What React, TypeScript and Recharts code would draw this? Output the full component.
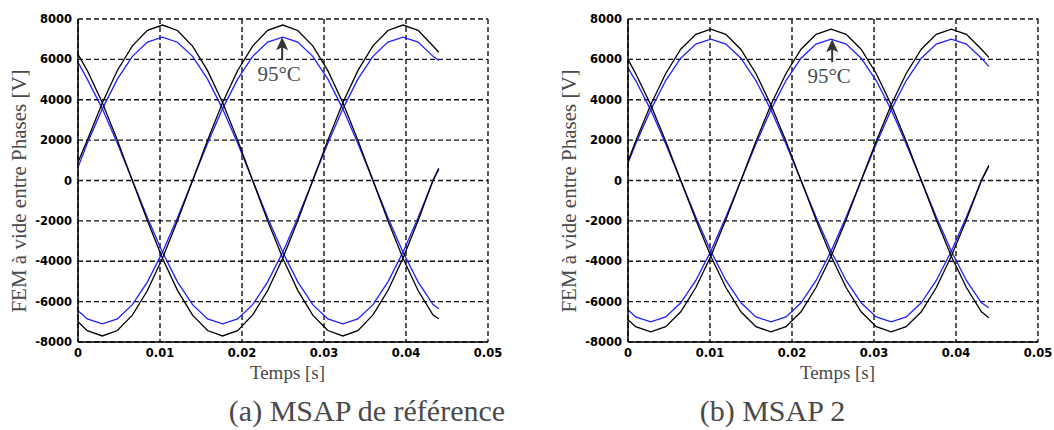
import { LineChart, Line, XAxis, YAxis, CartesianGrid, ReferenceDot } from "recharts";

// tick values shared by both panels
const xTicks = [0, 0.01, 0.02, 0.03, 0.04, 0.05];
const yTicks = [-8000, -6000, -4000, -2000, 0, 2000, 4000, 6000, 8000];

// (a) MSAP de référence — sample times [s]
const refTime = [0, 0.00113, 0.00297, 0.0048, 0.00663, 0.00847, 0.0103, 0.01213, 0.01397, 0.0158, 0.01763, 0.01947, 0.0213, 0.02313, 0.02497, 0.0268, 0.02863, 0.03047, 0.0323, 0.03413, 0.03597, 0.0378, 0.03963, 0.04147, 0.0433, 0.044];
const refBlackA = [900, 1990, 3850, 5450, 6670, 7440, 7700, 7430, 6660, 5440, 3860, 2000, 0, -1990, -3850, -5440, -6670, -7430, -7700, -7440, -6660, -5450, -3850, -1990, 10, 600];
const refBlackB = [6250, 5450, 3850, 1990, 0, -1990, -3850, -5440, -6670, -7430, -7700, -7440, -6660, -5450, -3850, -1990, 0, 2000, 3850, 5440, 6670, 7430, 7700, 7440, 6660, 6350];
const refBlackC = [-7000, -7440, -7700, -7430, -6670, -5450, -3850, -1990, 0, 1990, 3850, 5450, 6660, 7440, 7700, 7430, 6670, 5440, 3850, 2000, 0, -1990, -3850, -5450, -6670, -6850];
const refBlueA = [650, 1840, 3550, 5020, 6150, 6860, 7100, 6850, 6150, 5020, 3550, 1840, 0, -1840, -3550, -5020, -6150, -6860, -7100, -6860, -6150, -5020, -3550, -1840, 0, 550];
const refBlueB = [5850, 5020, 3550, 1840, 0, -1840, -3550, -5020, -6150, -6860, -7100, -6860, -6150, -5020, -3550, -1840, 0, 1840, 3550, 5020, 6150, 6860, 7100, 6860, 6150, 5950];
const refBlueC = [-6450, -6860, -7100, -6860, -6150, -5020, -3550, -1840, 0, 1840, 3550, 5020, 6150, 6860, 7100, 6860, 6150, 5020, 3550, 1840, 0, -1840, -3550, -5020, -6150, -6350];

// (b) MSAP 2
const m2Time = [0, 0.00093, 0.00277, 0.0046, 0.00643, 0.00827, 0.0101, 0.01193, 0.01377, 0.0156, 0.01743, 0.01927, 0.0211, 0.02293, 0.02477, 0.0266, 0.02843, 0.03027, 0.0321, 0.03393, 0.03577, 0.0376, 0.03943, 0.04127, 0.0431, 0.044];
const m2BlackA = [950, 1940, 3750, 5300, 6500, 7240, 7500, 7240, 6490, 5300, 3750, 1950, 0, -1940, -3750, -5300, -6500, -7240, -7500, -7240, -6500, -5300, -3750, -1940, 0, 750];
const m2BlackB = [6000, 5300, 3750, 1940, 0, -1940, -3750, -5300, -6500, -7240, -7500, -7240, -6500, -5300, -3750, -1940, 0, 1940, 3750, 5300, 6500, 7240, 7500, 7240, 6500, 6100];
const m2BlackC = [-6900, -7240, -7500, -7240, -6500, -5300, -3750, -1940, 0, 1940, 3750, 5300, 6500, 7240, 7500, 7240, 6500, 5300, 3750, 1940, 0, -1940, -3750, -5300, -6500, -6800];
const m2BlueA = [870, 1810, 3500, 4950, 6060, 6760, 7000, 6760, 6060, 4950, 3500, 1810, 0, -1810, -3500, -4950, -6060, -6760, -7000, -6760, -6060, -4950, -3500, -1810, 0, 700];
const m2BlueB = [5570, 4950, 3500, 1810, 0, -1810, -3500, -4950, -6060, -6760, -7000, -6760, -6060, -4950, -3500, -1810, 0, 1810, 3500, 4950, 6060, 6760, 7000, 6760, 6060, 5650];
const m2BlueC = [-6400, -6760, -7000, -6760, -6060, -4950, -3500, -1810, 0, 1810, 3500, 4950, 6060, 6760, 7000, 6760, 6060, 4950, 3500, 1810, 0, -1810, -3500, -4950, -6060, -6300];

// where the "95°C" arrow points (peak of blue curve)
const refPeak = { t: 0.0249, v: 7100 };
const m2Peak = { t: 0.0249, v: 7000 };

const BLACK = "#000000";
const BLUE = "#1f1fff";
const serif = "'Liberation Serif', 'Times New Roman', serif";
const labelGray = "#4a4a4a";

const buildRows = (t: number[], k: number[][]) =>
  t.map((v, i) => ({
    t: v,
    blackA: k[0][i],
    blackB: k[1][i],
    blackC: k[2][i],
    blueA: k[3][i],
    blueB: k[4][i],
    blueC: k[5][i],
  }));

const refRows = buildRows(refTime, [refBlackA, refBlackB, refBlackC, refBlueA, refBlueB, refBlueC]);
const m2Rows = buildRows(m2Time, [m2BlackA, m2BlackB, m2BlackC, m2BlueA, m2BlueB, m2BlueC]);

const tickStyle = {
  fill: "#000",
  fontSize: 11.5,
  fontWeight: 700,
  fontFamily: "'DejaVu Sans', sans-serif",
};

const fmtX = (v: number) => (v === 0 ? "0" : v.toFixed(2));

function TempArrow(props: any) {
  const { cx, cy } = props;
  if (cx == null || cy == null) return null;
  return (
    <g>
      <line x1={cx} y1={cy + 23} x2={cx} y2={cy + 9} stroke="#333" strokeWidth={2} />
      <path
        d={`M${cx} ${cy} L${cx - 6} ${cy + 13} L${cx} ${cy + 10} L${cx + 6} ${cy + 13} Z`}
        fill="#333"
      />
      <text
        x={cx - 3}
        y={cy + 44}
        textAnchor="middle"
        fontFamily={serif}
        fontSize={21}
        fill={labelGray}
      >
        95°C
      </text>
    </g>
  );
}

function Panel({ rows, peak }: { rows: any[]; peak: { t: number; v: number } }) {
  return (
    <LineChart
      width={508}
      height={362}
      data={rows}
      margin={{ top: 19, right: 20, bottom: 0, left: 0 }}
    >
      <CartesianGrid stroke="#111" strokeDasharray="5 3" strokeWidth={1.4} />
      <XAxis
        type="number"
        dataKey="t"
        domain={[0, 0.05]}
        ticks={xTicks}
        tickFormatter={fmtX}
        tick={tickStyle}
        tickLine={false}
        tickSize={5}
        height={20}
        axisLine={{ stroke: "#000", strokeWidth: 1.5 }}
        interval={0}
      />
      <YAxis
        type="number"
        domain={[-8000, 8000]}
        ticks={yTicks}
        width={78}
        tick={tickStyle}
        tickLine={false}
        tickSize={4}
        axisLine={{ stroke: "#000", strokeWidth: 1.5 }}
        interval={0}
      />
      <Line dataKey="blueA" stroke={BLUE} strokeWidth={1.3} dot={false} isAnimationActive={false} />
      <Line dataKey="blueB" stroke={BLUE} strokeWidth={1.3} dot={false} isAnimationActive={false} />
      <Line dataKey="blueC" stroke={BLUE} strokeWidth={1.3} dot={false} isAnimationActive={false} />
      <Line dataKey="blackA" stroke={BLACK} strokeWidth={1.3} dot={false} isAnimationActive={false} />
      <Line dataKey="blackB" stroke={BLACK} strokeWidth={1.3} dot={false} isAnimationActive={false} />
      <Line dataKey="blackC" stroke={BLACK} strokeWidth={1.3} dot={false} isAnimationActive={false} />
      <ReferenceDot x={peak.t} y={peak.v} shape={TempArrow} />
    </LineChart>
  );
}

export default function App() {
  return (
    <div
      style={{
        position: "absolute",
        left: 0,
        top: 0,
        width: 1054,
        height: 430,
        background: "#fff",
        overflow: "hidden",
      }}
    >
      <div style={{ position: "absolute", left: 0, top: 0 }}>
        <Panel rows={refRows} peak={refPeak} />
      </div>
      <div style={{ position: "absolute", left: 550, top: 0 }}>
        <Panel rows={m2Rows} peak={m2Peak} />
      </div>
      <svg
        width={1054}
        height={430}
        style={{ position: "absolute", left: 0, top: 0, pointerEvents: "none" }}
      >
        <g fontFamily={serif} fill={labelGray}>
          <text transform="translate(19,191) rotate(-90)" textAnchor="middle" dominantBaseline="central" fontSize={21}>
            FEM à vide entre Phases [V]
          </text>
          <text transform="translate(569,191) rotate(-90)" textAnchor="middle" dominantBaseline="central" fontSize={21}>
            FEM à vide entre Phases [V]
          </text>
          <text x={287.5} y={379} textAnchor="middle" fontSize={19}>
            Temps [s]
          </text>
          <text x={837.5} y={379} textAnchor="middle" fontSize={19}>
            Temps [s]
          </text>
          <text x={367} y={421} textAnchor="middle" fontSize={30}>
            (a) MSAP de référence
          </text>
          <text x={772.5} y={421} textAnchor="middle" fontSize={30}>
            (b) MSAP 2
          </text>
        </g>
      </svg>
    </div>
  );
}
